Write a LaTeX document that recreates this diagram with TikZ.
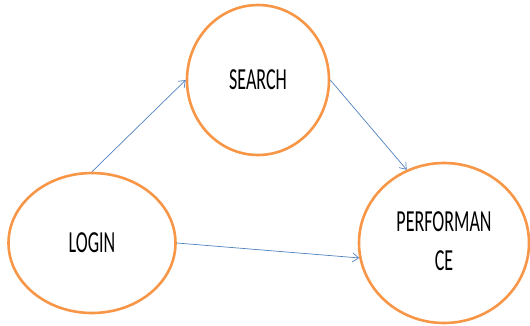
\documentclass[tikz,border=0pt]{standalone}
\usepackage{fontspec}
\setmainfont{Carlito}
\usetikzlibrary{shapes.geometric,arrows.meta}
\definecolor{ringorange}{HTML}{F79646}
\definecolor{linkblue}{HTML}{4F81BD}
\tikzset{
  ring/.style={draw=ringorange, line width=2.6pt, ellipse, inner sep=0pt, fill=white},
  link/.style={draw=linkblue, line width=0.7pt, -{Straight Barb[length=6pt,width=9pt]}},
}
\newcommand{\tall}[1]{\scalebox{1}[1.7]{\fontsize{18}{23.5}\selectfont #1}}
\begin{document}
\begin{tikzpicture}[x=1pt,y=-1pt]
\useasboundingbox (0,0) rectangle (530,325);
\node[ring, minimum width=167pt, minimum height=140pt] (login) at (92,243) {\tall{LOGIN}};
\node[ring, minimum width=142pt, minimum height=150pt] (search) at (258,80) {\tall{SEARCH}};
\node[ring, minimum width=170pt, minimum height=160pt] (perf) at (444,243) {\tall{\begin{tabular}{@{}c@{}}PERFORMAN\\CE\end{tabular}}};
\draw[link] (login.north) -- (search.west);
\draw[link] (search.east) -- (perf.117);
\draw[link] (login.east) -- (perf.190);
\end{tikzpicture}
\end{document}
